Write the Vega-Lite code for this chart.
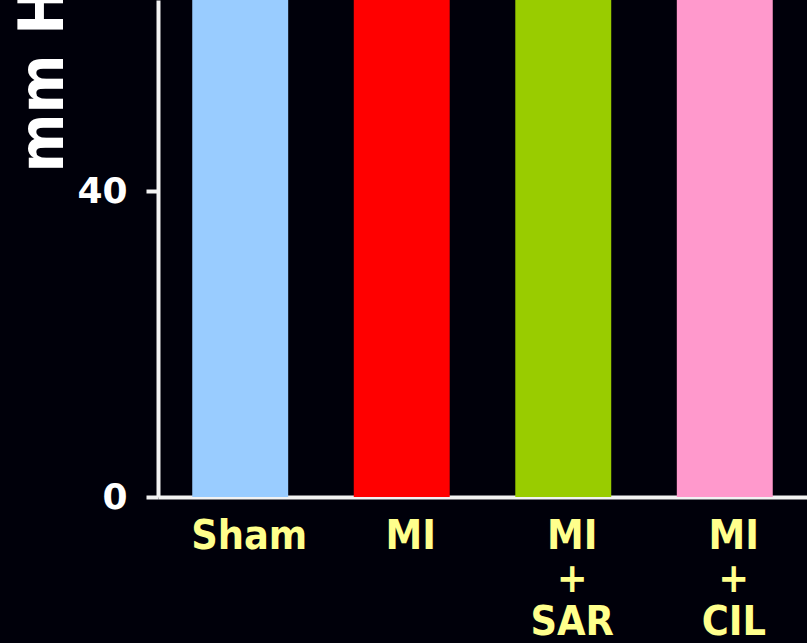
{
  "$schema": "https://vega.github.io/schema/vega-lite/v6.json",
  "autosize": {"type": "none"},
  "padding": {"left": 158, "top": 0, "right": 0, "bottom": 146},
  "width": 649,
  "height": 497,
  "background": "#00000a",
  "data": {
    "values": [
      {"group": "Sham", "pressure": 112},
      {"group": "MI", "pressure": 98},
      {"group": "MI|+|SAR", "pressure": 105},
      {"group": "MI|+|CIL", "pressure": 103}
    ]
  },
  "mark": {"type": "bar", "clip": true},
  "encoding": {
    "x": {
      "field": "group",
      "type": "nominal",
      "sort": null,
      "scale": {"paddingInner": 0.406, "paddingOuter": 0.212},
      "axis": {
        "title": null,
        "labelAngle": 0,
        "ticks": false,
        "tickSize": 0,
        "domainColor": "#f2f2f2",
        "domainWidth": 4,
        "labelColor": "#ffff8c",
        "labelFont": "DejaVu Sans Condensed",
        "labelFontWeight": "bold",
        "labelFontSize": 41,
        "labelBaseline": "top",
        "labelLineHeight": 43,
        "labelPadding": 19,
        "labelOffset": 9,
        "labelExpr": "split(datum.label, '|')"
      }
    },
    "y": {
      "field": "pressure",
      "type": "quantitative",
      "scale": {"domain": [0, 65], "nice": false, "zero": true},
      "axis": {
        "title": "mm Hg",
        "titleColor": "#ffffff",
        "titleFont": "DejaVu Sans Condensed",
        "titleFontWeight": "bold",
        "titleFontSize": 63,
        "titleAngle": -90,
        "titleAlign": "left",
        "titleBaseline": "alphabetic",
        "titleX": -96,
        "titleY": 172,
        "values": [0, 40],
        "grid": false,
        "domainColor": "#f2f2f2",
        "domainWidth": 4,
        "tickColor": "#f2f2f2",
        "tickWidth": 4,
        "tickSize": 12,
        "labelColor": "#ffffff",
        "labelFont": "DejaVu Sans",
        "labelFontWeight": "bold",
        "labelFontSize": 36,
        "labelPadding": 19
      }
    },
    "color": {
      "field": "group",
      "type": "nominal",
      "sort": null,
      "scale": {
        "domain": ["Sham", "MI", "MI|+|SAR", "MI|+|CIL"],
        "range": ["#99ccff", "#ff0000", "#99cc00", "#ff99cc"]
      },
      "legend": null
    }
  },
  "config": {"view": {"stroke": null}}
}
